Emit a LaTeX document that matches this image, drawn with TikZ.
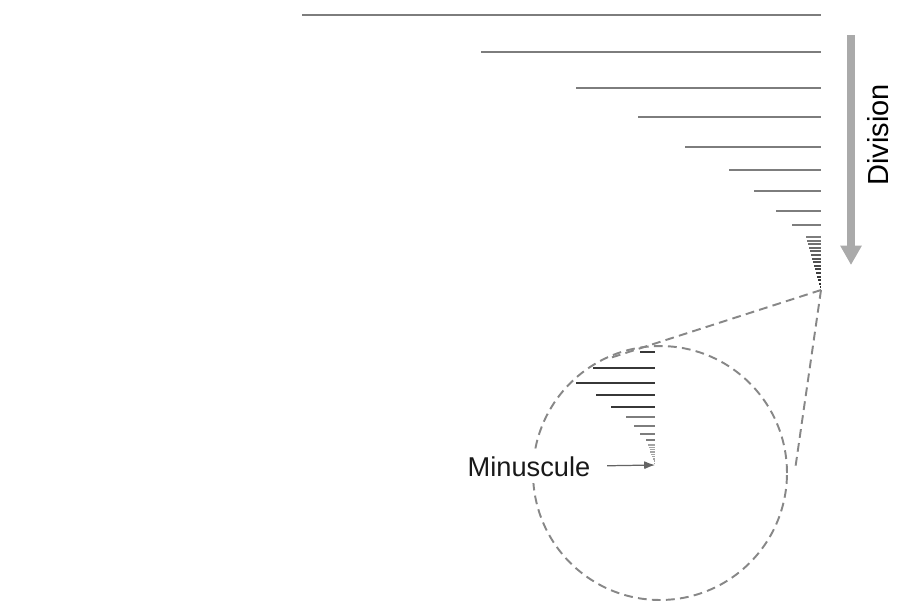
\documentclass[tikz,border=0pt]{standalone}
\usepackage{fontspec}
\setmainfont{Liberation Sans}
\usetikzlibrary{arrows.meta,positioning,calc}
\definecolor{rulegray}{RGB}{125,125,125}
\definecolor{zoomgray}{RGB}{55,55,55}
\definecolor{dashgray}{RGB}{135,135,135}
\definecolor{arrowgray}{RGB}{170,170,170}

\begin{document}
\begin{tikzpicture}[x=0.02cm,y=-0.02cm,>=Latex,every node/.style={font=\fontsize{15.5}{18}\selectfont}]
\tikzset{cut/.style={rulegray,line width=1.1pt},zoomcut/.style={zoomgray,line width=1.4pt},lensline/.style={dashgray,line width=1.1pt,dash pattern=on 5pt off 3pt}}
\useasboundingbox (0,0) rectangle (902,602);
\foreach \y/\x in {15/302,52/481,88/576,117/638,147/685,170/729,191/754,211/776,225/792}
  \draw[cut] (\x,\y) -- (821,\y);
\foreach \i in {0,...,14}{
  \pgfmathsetmacro\shade{100-\i*5}
  \draw[rulegray!\shade!black,line width=1.1pt] ({806+\i},{237+\i*3.6}) -- (821,{237+\i*3.6});}
\coordinate (apex) at (821,290);
\node[draw=dashgray,line width=1.1pt,dash pattern=on 5pt off 3pt,circle,minimum size=5.08cm,inner sep=0pt](lens) at (660,473){};
\coordinate (lenstop) at (610,358);
\coordinate (lensside) at (795,470);
\draw[lensline](apex)--(lenstop); \draw[lensline](apex)--(lensside);
\foreach \y/\x in {352/640,368/593,383/576,395/596,407/611}
  \draw[zoomcut] (\x,\y) -- (655,\y);
\foreach \y/\x in {417/626,426/634,434/640,440/646}
  \draw[rulegray,line width=1pt] (\x,\y) -- (655,\y);
\foreach \i in {0,...,8}
  \draw[rulegray!70,line width=0.8pt] ({648+\i*0.8},{445+\i*2.3}) -- (655,{445+\i*2.3});
\coordinate (tinytip) at (655,465);
\node[fill=white,text=black!90](minus) at (529,467){Minuscule};
\draw[->,rulegray!80!black,line width=0.7pt,shorten <=6pt](minus)--(tinytip);
\coordinate (divtop) at (851,35);
\coordinate (divend) at (851,265);
\draw[arrowgray,line width=4.5pt,-{Triangle[width=11.5pt,length=11pt]}](divtop)--(divend);
\node[rotate=90,font=\fontsize{16.5}{19}\selectfont](divlabel) at (878,135){Division};
\end{tikzpicture}
\end{document}
